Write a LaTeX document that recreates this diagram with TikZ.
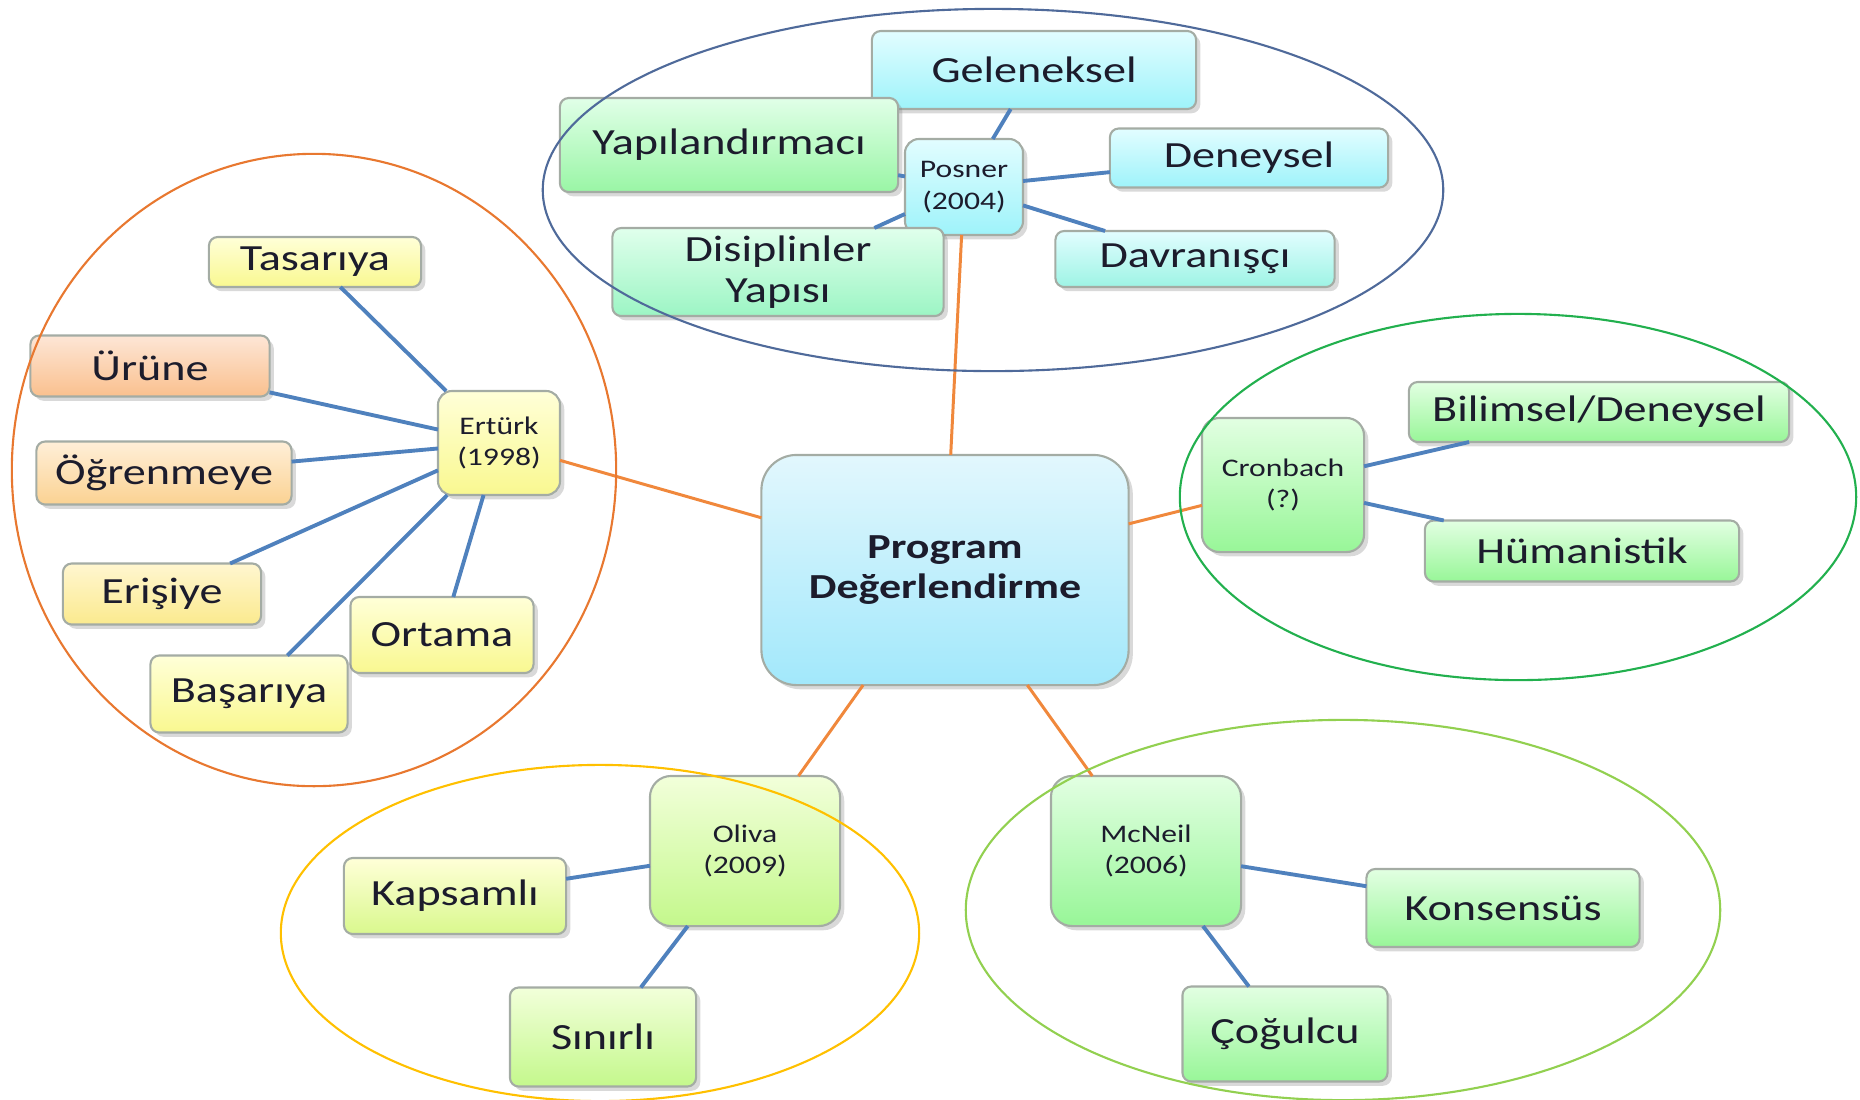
\documentclass[tikz,border=0pt]{standalone}
\usepackage{fontspec}
\setmainfont{Carlito}[FakeStretch=1.25]
\usetikzlibrary{shadows}

\definecolor{linkblue}{HTML}{4F81BD}
\definecolor{linkorange}{HTML}{F0883C}
\definecolor{boxgray}{HTML}{A4ACA4}
\definecolor{txt}{HTML}{1C1C2C}
\definecolor{cyantop}{HTML}{E2FDFF}
\definecolor{cyanbot}{HTML}{9EF3FA}
\definecolor{minttop}{HTML}{E0FFEC}
\definecolor{mintbot}{HTML}{9CF5C4}
\definecolor{yellowtop}{HTML}{FFFFD8}
\definecolor{yellowbot}{HTML}{F9F890}
\definecolor{orangetop}{HTML}{FDE6D6}
\definecolor{orangebot}{HTML}{FAC08E}
\definecolor{peachtop}{HTML}{FFEFD8}
\definecolor{peachbot}{HTML}{FBD292}
\definecolor{goldtop}{HTML}{FFF6D0}
\definecolor{goldbot}{HTML}{FBEA8E}
\definecolor{greentop}{HTML}{E2FFE2}
\definecolor{greenbot}{HTML}{98F698}
\definecolor{limetop}{HTML}{F2FFDA}
\definecolor{limebot}{HTML}{C4F88C}
\definecolor{centertop}{HTML}{E2F7FD}
\definecolor{centerbot}{HTML}{A2E8FB}

\tikzset{
  box/.style={draw=boxgray, line width=0.6pt, rounded corners=2.5pt, align=center,
    text=txt, inner sep=1pt, outer sep=0pt, font=\fontsize{10.5}{11.5}\selectfont,
    drop shadow={shadow xshift=1.2pt, shadow yshift=-1.2pt, opacity=0.3}},
  hub/.style={box, rounded corners=4pt, font=\fontsize{7.2}{9}\selectfont},
  cyanbox/.style={top color=cyantop, bottom color=cyanbot},
  mintbox/.style={top color=minttop, bottom color=mintbot},
  yellowbox/.style={top color=yellowtop, bottom color=yellowbot},
  orangebox/.style={top color=orangetop, bottom color=orangebot},
  peachbox/.style={top color=peachtop, bottom color=peachbot},
  goldbox/.style={top color=goldtop, bottom color=goldbot},
  greenbox/.style={top color=greentop, bottom color=greenbot},
  limebox/.style={top color=limetop, bottom color=limebot},
  wh/.style 2 args={minimum width=#1cm, minimum height=#2cm}
}

\begin{document}
\begin{tikzpicture}[x=0.01cm, y=-0.01cm,
    branch/.style={draw=linkorange, line width=0.85pt},
    leafline/.style={draw=linkblue, line width=1.1pt},
    group/.style={line width=0.6pt}]
  \useasboundingbox (0,0) rectangle (1860,1099);

  % center
  \node[box, rounded corners=10pt, top color=centertop, bottom color=centerbot, wh={3.67}{2.30},
        font=\fontsize{10}{11.5}\selectfont\bfseries] (prog) at (945,570) {Program\\Değerlendirme};

  % Posner
  \node[hub, cyanbox, wh={1.18}{0.96}]    (posner) at (964,187)  {Posner\\(2004)};
  \node[box, cyanbox, wh={3.24}{0.78}]    (gel)    at (1034,70)  {Geleneksel};
  \node[box, mintbox, wh={3.38}{0.94}, top color=minttop!60!greentop, bottom color=greenbot!70!mintbot]
                                          (yap)    at (729,145)  {Yapılandırmacı};
  \node[box, cyanbox, wh={2.78}{0.59}]    (den)    at (1249,158) {Deneysel};
  \node[box, mintbox, wh={3.31}{0.88}]    (dis)    at (778,272)  {Disiplinler\\Yapısı};
  \node[box, cyanbox, wh={2.79}{0.56}, bottom color=cyanbot!60!mintbot]
                                          (dav)    at (1195,259) {Davranışçı};

  % Ertürk
  \node[hub, yellowbox, wh={1.22}{1.04}]  (erturk) at (499,443)  {Ertürk\\(1998)};
  \node[box, yellowbox, wh={2.12}{0.50}]  (tas)    at (315,262)  {Tasarıya};
  \node[box, orangebox, wh={2.39}{0.61}]  (uru)    at (150,366)  {Ürüne};
  \node[box, peachbox, wh={2.55}{0.63}]   (ogr)    at (164,473)  {Öğrenmeye};
  \node[box, goldbox, wh={1.98}{0.61}]    (eri)    at (162,594)  {Erişiye};
  \node[box, yellowbox, wh={1.83}{0.76}]  (ort)    at (442,635)  {Ortama};
  \node[box, yellowbox, wh={1.97}{0.77}]  (bas)    at (249,694)  {Başarıya};

  % Cronbach
  \node[hub, greenbox, wh={1.62}{1.34}, rounded corners=5pt] (cron) at (1283,485) {Cronbach\\(?)};
  \node[box, greenbox, wh={3.80}{0.60}]   (bil)    at (1599,412) {Bilimsel/Deneysel};
  \node[box, greenbox, wh={3.14}{0.61}]   (hum)    at (1582,551) {Hümanistik};

  % Oliva
  \node[hub, limebox, wh={1.90}{1.50}, rounded corners=6pt] (oliva) at (745,851) {Oliva\\(2009)};
  \node[box, limebox, wh={2.22}{0.76}, top color=yellowtop, bottom color=limebot!60!yellowbot]
                                          (kap)    at (455,896)  {Kapsamlı};
  \node[box, limebox, wh={1.86}{0.99}]    (sin)    at (603,1037) {Sınırlı};

  % McNeil
  \node[hub, greenbox, wh={1.90}{1.50}, rounded corners=6pt] (mcneil) at (1146,851) {McNeil\\(2006)};
  \node[box, greenbox, wh={2.73}{0.78}]   (kon)    at (1503,908) {Konsensüs};
  \node[box, greenbox, wh={2.05}{0.95}]   (cog)    at (1285,1034) {Çoğulcu};

  \draw[branch] (prog) -- (posner)
                (prog) -- (erturk)
                (prog) -- (cron)
                (prog) -- (oliva)
                (prog) -- (mcneil);

  \draw[leafline] (posner) -- (gel)
                  (posner) -- (yap)
                  (posner) -- (den)
                  (posner) -- (dis)
                  (posner) -- (dav);
  \draw[leafline] (erturk) -- (tas)
                  (erturk) -- (uru)
                  (erturk) -- (ogr)
                  (erturk) -- (eri)
                  (erturk) -- (ort)
                  (erturk) -- (bas);
  \draw[leafline] (cron) -- (bil)
                  (cron) -- (hum);
  \draw[leafline] (oliva) -- (kap)
                  (oliva) -- (sin);
  \draw[leafline] (mcneil) -- (kon)
                  (mcneil) -- (cog);

  % group rings
  \draw[group, draw={rgb,255:red,79;green,106;blue,154}] (993,190) ellipse (4.50cm and 1.81cm);
  \draw[group, draw={rgb,255:red,232;green,120;blue,48}] (314,470) ellipse (3.02cm and 3.16cm);
  \draw[group, draw={rgb,255:red,34;green,176;blue,78}]  (1518,497) ellipse (3.38cm and 1.83cm);
  \draw[group, draw={rgb,255:red,255;green,192;blue,0}]  (600,933) ellipse (3.19cm and 1.68cm);
  \draw[group, draw={rgb,255:red,146;green,208;blue,80}] (1343,910) ellipse (3.77cm and 1.90cm);
\end{tikzpicture}
\end{document}
